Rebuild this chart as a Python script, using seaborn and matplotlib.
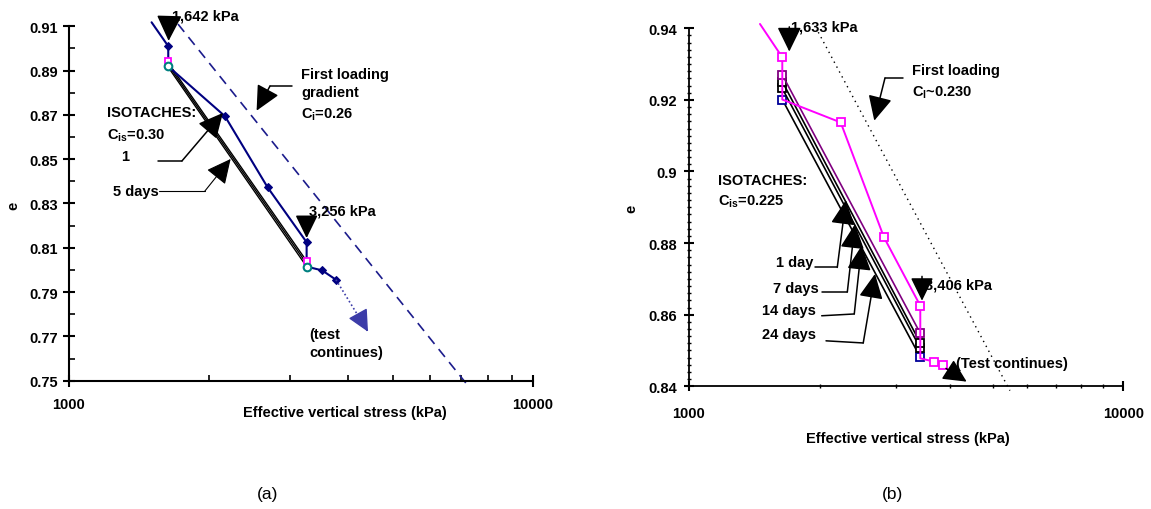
import numpy as np
import pandas as pd
import matplotlib
matplotlib.use("Agg")
import matplotlib.pyplot as plt
import seaborn as sns
from matplotlib.ticker import FixedLocator, LogLocator, NullFormatter, MultipleLocator

# ---------------- data (a) ----------------
# loading path with creep steps
a_path_sigma = [1507, 1637, 1637, 2169, 2680, 3253, 3253, 3513, 3762]
a_path_e = [0.9118, 0.9010, 0.8919, 0.8694, 0.8373, 0.8125, 0.8015, 0.7998, 0.7956]
a_path_marks = [1, 3, 4, 5, 7, 8]
# creep end points at the two load steps
a_step_sigma = [1637, 3253]
a_magenta_e = [0.8943, 0.8042]
a_teal_e = [0.8919, 0.8015]
# isotaches
a_iso_sigma = [1637, 3253]
a_iso1_e = [0.8935, 0.8040]
a_iso2_e = [0.8925, 0.8028]
a_iso3_e = [0.8915, 0.8015]
# test continues
a_cont_sigma = [3762, 4411]
a_cont_e = [0.7956, 0.7721]
# first loading gradient
a_first_sigma = [1718, 7197]
a_first_e = [0.911, 0.7485]
a_yticks = [0.75, 0.77, 0.79, 0.81, 0.83, 0.85, 0.87, 0.89, 0.91]
a_ytick_labels = ["0.75", "0.77", "0.79", "0.81", "0.83", "0.85", "0.87", "0.89", "0.91"]
a_yminor = [0.76, 0.78, 0.80, 0.82, 0.84, 0.86, 0.88, 0.90]

# ---------------- data (b) ----------------
b_path_sigma = [1457, 1640, 1640, 2235, 2812, 3409, 3409, 3665, 3838]
b_path_e = [0.9412, 0.9319, 0.9201, 0.9137, 0.8816, 0.8625, 0.8478, 0.8469, 0.8460]
b_path_marks = [1, 3, 4, 5, 7, 8]
b_iso_sigma = [1640, 3409]
b_iso_purple_e = [0.9270, 0.8548]
b_iso_black1_e = [0.9251, 0.8521]
b_iso_black2_e = [0.9232, 0.8506]
b_iso_blue_e = [0.9201, 0.8481]
b_first_sigma = [1985, 5483]
b_first_e = [0.9389, 0.8388]
b_yticks = [0.84, 0.86, 0.88, 0.90, 0.92, 0.94]
b_ytick_labels = ["0.84", "0.86", "0.88", "0.9", "0.92", "0.94"]

x_ticks = [1000, 10000]
x_tick_labels = ["1000", "10000"]

sns.set_theme(style="ticks")
plt.rcParams["font.family"] = ["Liberation Sans", "DejaVu Sans"]
plt.rcParams["font.weight"] = "bold"
plt.rcParams["text.color"] = "black"
plt.rcParams["axes.labelcolor"] = "black"
plt.rcParams["xtick.color"] = "black"
plt.rcParams["ytick.color"] = "black"
plt.rcParams["mathtext.fontset"] = "custom"
plt.rcParams["mathtext.rm"] = "Liberation Sans:bold"
plt.rcParams["mathtext.it"] = "Liberation Sans:bold"
plt.rcParams["mathtext.default"] = "rm"

FS = 10.5
fig = plt.figure(figsize=(11.51, 5.10), dpi=100)
ax1 = fig.add_axes([0.0599, 0.2516, 0.4031, 0.6949])
ax2 = fig.add_axes([0.5986, 0.2406, 0.3773, 0.7020])


def arrow(ax, pts, ms=34, color="black", lw=1.1):
    if len(pts) > 2:
        xs, ys = zip(*pts[:-1])
        ax.plot(xs, ys, color=color, lw=lw, clip_on=False)
    ax.annotate("", xy=pts[-1], xytext=pts[-2], annotation_clip=False,
                arrowprops=dict(arrowstyle="-|>,head_length=0.45,head_width=0.22",
                                color=color, lw=lw, mutation_scale=ms,
                                shrinkA=0, shrinkB=0))


def setup(ax, ylim, yticks, ylabels):
    ax.set_xscale("log")
    ax.set_xlim(1000, 10000)
    ax.set_ylim(*ylim)
    ax.xaxis.set_major_locator(FixedLocator(x_ticks))
    ax.set_xticklabels(x_tick_labels)
    ax.xaxis.set_minor_locator(LogLocator(base=10, subs=np.arange(2, 10)))
    ax.xaxis.set_minor_formatter(NullFormatter())
    ax.set_yticks(yticks)
    ax.set_yticklabels(ylabels)
    ax.spines[["top", "right"]].set_visible(False)
    for s in ["left", "bottom"]:
        ax.spines[s].set_color("black")
        ax.spines[s].set_linewidth(1.5)
    for lab in ax.get_xticklabels() + ax.get_yticklabels():
        lab.set_fontweight("bold")
        lab.set_fontsize(FS)
        lab.set_color("black")
    ax.set_xlabel("Effective vertical stress (kPa)", fontsize=FS, fontweight="bold", color="black")
    ax.set_ylabel("e", fontsize=FS, fontweight="bold", color="black")
    ax.xaxis.label.set_verticalalignment("center")
    ax.yaxis.label.set_verticalalignment("center")


# ================= panel (a) =================
setup(ax1, (0.75, 0.91), a_yticks, a_ytick_labels)
ax1.yaxis.set_minor_locator(FixedLocator(a_yminor))
ax1.tick_params(axis="both", which="major", direction="inout", length=8, width=1.5, colors="black")
ax1.tick_params(axis="y", which="major", pad=4)
ax1.tick_params(axis="x", which="major", pad=8)
ax1.tick_params(axis="both", which="minor", direction="in", length=4, width=1.2, colors="black")
ax1.xaxis.set_label_coords(0.595, -0.088)
ax1.yaxis.set_label_coords(-0.120, 0.496)

sns.lineplot(x=a_first_sigma, y=a_first_e, ax=ax1, sort=False, estimator=None,
             color="#1c1c8c", lw=1.2, linestyle=(0, (6, 4)), clip_on=False)
for e_vals in (a_iso1_e, a_iso2_e, a_iso3_e):
    sns.lineplot(x=a_iso_sigma, y=e_vals, ax=ax1, sort=False, estimator=None,
                 color="black", lw=1.0)
sns.lineplot(x=a_path_sigma, y=a_path_e, ax=ax1, sort=False, estimator=None,
             color="#000080", lw=1.5, marker="D", markersize=4.5, markevery=a_path_marks,
             markeredgecolor="#000080", clip_on=False)
sns.lineplot(x=a_step_sigma, y=a_magenta_e, ax=ax1, sort=False, estimator=None,
             color="#ff00ff", lw=0, marker="s", markersize=5, markerfacecolor="white",
             markeredgecolor="#ff00ff", markeredgewidth=1.3)
sns.lineplot(x=a_step_sigma, y=a_teal_e, ax=ax1, sort=False, estimator=None,
             color="#008080", lw=0, marker="o", markersize=5.5, markerfacecolor="white",
             markeredgecolor="#008080", markeredgewidth=1.5)
sns.lineplot(x=a_cont_sigma, y=a_cont_e, ax=ax1, sort=False, estimator=None,
             color="#3c3ca8", lw=1.2, linestyle=(0, (1, 1.5)))
ax1.annotate("", xy=(a_cont_sigma[1], a_cont_e[1]), xytext=(4250, 0.7782),
             arrowprops=dict(arrowstyle="-|>,head_length=0.45,head_width=0.22",
                             color="#3c3ca8", lw=1, mutation_scale=30,
                             shrinkA=0, shrinkB=0))

ax1.text(1667, 0.9147, "1,642 kPa", fontsize=FS, ha="left", va="center")
arrow(ax1, [(1645, 0.9133), (1640, 0.9034)], ms=36)
ax1.text(3162, 0.8885, "First loading", fontsize=FS, ha="left", va="center")
ax1.text(3162, 0.8803, "gradient", fontsize=FS, ha="left", va="center")
ax1.text(3162, 0.8704, "C$_{i}$=0.26", fontsize=FS, ha="left", va="center")
arrow(ax1, [(3020, 0.883), (2712, 0.883), (2538, 0.8719)])
ax1.text(1208, 0.8713, "ISOTACHES:", fontsize=FS, ha="left", va="center")
ax1.text(1208, 0.8609, "C$_{is}$=0.30", fontsize=FS, ha="left", va="center")
ax1.text(1320, 0.8514, "1", fontsize=FS, ha="center", va="center")
ax1.text(1244, 0.8356, "5 days", fontsize=FS, ha="left", va="center")
arrow(ax1, [(1555, 0.8492), (1752, 0.8492), (2147, 0.8709)])
arrow(ax1, [(1563, 0.8356), (1963, 0.8356), (2231, 0.8501)], lw=0.8)
ax1.text(3290, 0.827, "3,256 kPa", fontsize=FS, ha="left", va="center")
arrow(ax1, [(3253, 0.8221), (3253, 0.8144)], ms=32)
ax1.text(3293, 0.7711, "(test", fontsize=FS, ha="left", va="center")
ax1.text(3293, 0.7631, "continues)", fontsize=FS, ha="left", va="center")

# ================= panel (b) =================
setup(ax2, (0.84, 0.94), b_yticks, b_ytick_labels)
ax2.yaxis.set_minor_locator(MultipleLocator(0.002))
for s in ["left", "bottom"]:
    ax2.spines[s].set_linestyle((0, (2, 1)))
    ax2.spines[s].set_linewidth(1.3)
ax2.tick_params(axis="both", which="major", direction="inout", length=7, width=1.5, colors="black")
ax2.tick_params(axis="y", which="major", pad=5)
ax2.tick_params(axis="x", which="major", pad=11)
ax2.tick_params(axis="both", which="minor", direction="inout", length=3, width=1.0, colors="black")
ax2.xaxis.set_label_coords(0.504, -0.145)
ax2.yaxis.set_label_coords(-0.132, 0.498)

sns.lineplot(x=b_first_sigma, y=b_first_e, ax=ax2, sort=False, estimator=None,
             color="black", lw=1.0, linestyle=(0, (1, 3)), clip_on=False)
for e_vals, col, mcol in ((b_iso_blue_e, "black", "#000099"),
                          (b_iso_black2_e, "black", "black"),
                          (b_iso_black1_e, "black", "black"),
                          (b_iso_purple_e, "#800080", "#800080")):
    sns.lineplot(x=b_iso_sigma, y=e_vals, ax=ax2, sort=False, estimator=None,
                 color=col, lw=1.2, marker="s", markersize=6, markerfacecolor="white",
                 markeredgecolor=mcol, markeredgewidth=1.3)
sns.lineplot(x=b_path_sigma, y=b_path_e, ax=ax2, sort=False, estimator=None,
             color="#ff00ff", lw=1.4, marker="s", markersize=6, markevery=b_path_marks,
             markerfacecolor="white", markeredgecolor="#ff00ff", markeredgewidth=1.3,
             clip_on=False)

ax2.text(1715, 0.9405, "1,633 kPa", fontsize=FS, ha="left", va="center")
arrow(ax2, [(1702, 0.9404), (1702, 0.9335)], ms=34)
ax2.text(3256, 0.9284, "First loading", fontsize=FS, ha="left", va="center")
ax2.text(3256, 0.9223, "C$_{l}$~0.230", fontsize=FS, ha="left", va="center")
arrow(ax2, [(3105, 0.9261), (2827, 0.9261), (2671, 0.9142)])
ax2.text(1164, 0.8976, "ISOTACHES:", fontsize=FS, ha="left", va="center")
ax2.text(1164, 0.8919, "C$_{is}$=0.225", fontsize=FS, ha="left", va="center")
ax2.text(1932, 0.8746, "1 day", fontsize=FS, ha="right", va="center")
ax2.text(1985, 0.8674, "7 days", fontsize=FS, ha="right", va="center")
ax2.text(1960, 0.8613, "14 days", fontsize=FS, ha="right", va="center")
ax2.text(1960, 0.8546, "24 days", fontsize=FS, ha="right", va="center")
arrow(ax2, [(1950, 0.8732), (2195, 0.8732), (2298, 0.8920)])
arrow(ax2, [(2021, 0.8663), (2315, 0.8663), (2411, 0.8853)])
arrow(ax2, [(2021, 0.8597), (2402, 0.8602), (2498, 0.8793)])
arrow(ax2, [(2068, 0.8527), (2519, 0.8521), (2681, 0.8714)])
ax2.text(3494, 0.8684, "3,406 kPa", fontsize=FS, ha="left", va="center")
arrow(ax2, [(3440, 0.8707), (3440, 0.8639)], ms=32)
ax2.text(4112, 0.8464, "(Test continues)", fontsize=FS, ha="left", va="center")
arrow(ax2, [(3906, 0.845), (4359, 0.8413)], ms=32)

fig.text(0.2328, 0.030, "(a)", fontsize=12.5, fontweight="normal", ha="center", va="center")
fig.text(0.7750, 0.030, "(b)", fontsize=12.5, fontweight="normal", ha="center", va="center")

fig.savefig("out.png", dpi=100)
